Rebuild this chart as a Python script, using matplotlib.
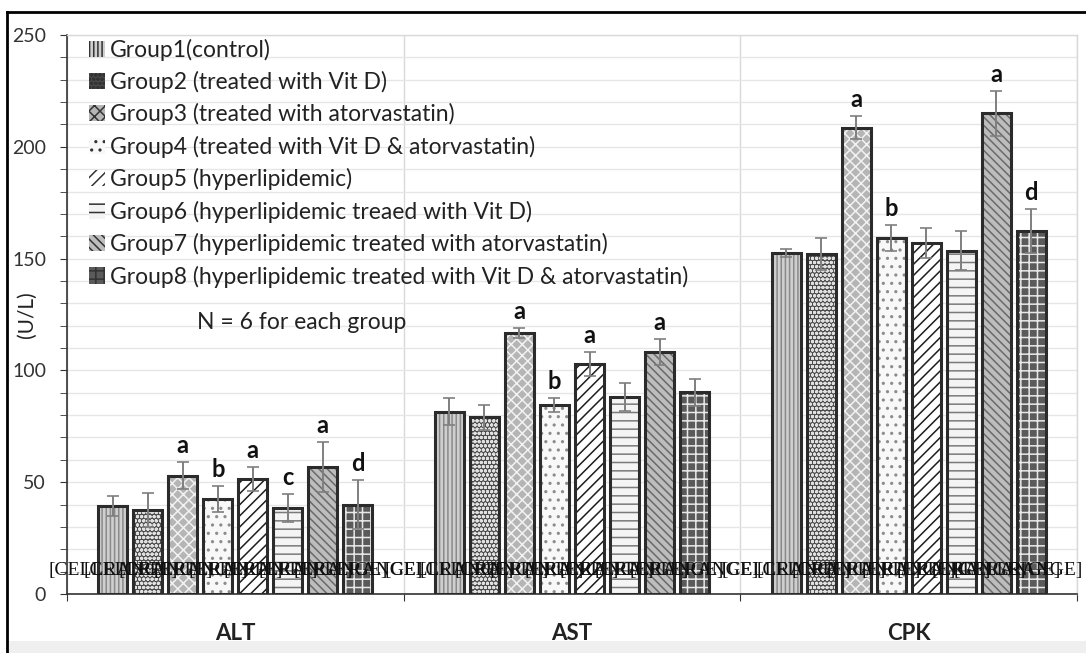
import numpy as np
import matplotlib
matplotlib.use('Agg')
import matplotlib.pyplot as plt
import matplotlib.transforms as mtransforms
from matplotlib.patches import Patch, Rectangle
from matplotlib.lines import Line2D

# ---- data ----
categories = ['ALT', 'AST', 'CPK']
groups = ['Group1(control)',
          'Group2 (treated with Vit D)',
          'Group3 (treated with atorvastatin)',
          'Group4 (treated with Vit D & atorvastatin)',
          'Group5 (hyperlipidemic)',
          'Group6 (hyperlipidemic treaed with Vit D)',
          'Group7 (hyperlipidemic treated with atorvastatin)',
          'Group8 (hyperlipidemic treated with Vit D & atorvastatin)']

means = np.array([
    [39.5, 81.5, 152.7],
    [37.6, 79.0, 152.0],
    [52.9, 116.9, 208.6],
    [42.5, 84.5, 159.2],
    [51.4, 102.9, 156.8],
    [38.6, 88.0, 153.6],
    [56.7, 108.2, 214.9],
    [39.9, 90.3, 162.3],
])
sds = np.array([
    [4.5, 6.1, 1.8],
    [7.7, 5.7, 7.2],
    [6.0, 2.2, 5.1],
    [5.8, 3.0, 6.0],
    [5.5, 5.4, 6.7],
    [6.3, 6.2, 8.6],
    [11.3, 5.7, 9.9],
    [11.0, 6.0, 10.0],
])
letters = [
    ['', '', ''],
    ['', '', ''],
    ['a', 'a', 'a'],
    ['b', 'b', 'b'],
    ['a', 'a', ''],
    ['c', '', ''],
    ['a', 'a', 'a'],
    ['d', '', 'd'],
]
cell_label = '[CELLRANGE]'
cell_label_y = 10.3

# bar look per group: face colour, hatch, hatch colour
styles = [
    ('#cfcfcf', '||||', '#8a8a8a'),
    ('#4a4a4a', 'oooo', '#e0e0e0'),
    ('#b5b5b5', 'xxx', '#f2f2f2'),
    ('#f8f8f8', '..', '#8c8c8c'),
    ('#ffffff', '///', '#1e1e1e'),
    ('#f4f4f4', '--', '#7a7a7a'),
    ('#bdbdbd', '\\\\\\\\', '#6a6a6a'),
    ('#5a5a5a', '++', '#e8e8e8'),
]

plt.rcParams['font.family'] = ['Lato', 'DejaVu Sans']
plt.rcParams['hatch.linewidth'] = 1.1

W, H = 1086, 653
fig = plt.figure(figsize=(W / 100, H / 100), dpi=100)
ax = fig.add_axes([67 / W, 59 / H, 1010 / W, 559 / H])

x = np.arange(len(categories))
pitch = 0.104
width = 0.086
# labels pushed back inside the chart area at its right edge
right_edge = mtransforms.blended_transform_factory(fig.transFigure, ax.transData)
for i, (fc, hatch, hc) in enumerate(styles):
    xs = x + (i - 3.5) * pitch
    ax.bar(xs, means[i], width, color=fc, hatch=hatch, edgecolor=hc,
           linewidth=0, zorder=2)
    ax.bar(xs, means[i], width, fill=False, edgecolor='#2b2b2b',
           linewidth=2.2, zorder=3)
    ax.errorbar(xs, means[i], yerr=sds[i], fmt='none', ecolor='#7f7f7f',
                elinewidth=1.4, capsize=4, capthick=1.2, zorder=4)
    for j in range(len(categories)):
        if i == len(styles) - 1 and j == len(categories) - 1:
            ax.text(1083 / W, cell_label_y, cell_label, ha='right', va='center',
                    transform=right_edge, fontsize=14, family='Liberation Serif',
                    color='#111111', zorder=5)
        else:
            ax.text(xs[j], cell_label_y, cell_label, ha='center', va='center',
                    fontsize=14, family='Liberation Serif', color='#111111',
                    zorder=5)
        if letters[i][j]:
            ax.text(xs[j], means[i][j] + sds[i][j] + 2.2, letters[i][j],
                    ha='center', va='bottom', fontsize=17, fontweight='bold',
                    color='#111111', zorder=5)

ax.set_xlim(-0.5, 2.5)
ax.set_ylim(0, 250)
ax.set_yticks(np.arange(0, 251, 50))
ax.set_yticks(np.arange(0, 251, 10), minor=True)
ax.set_xticks([-0.5, 0.5, 1.5, 2.5])
ax.set_xticklabels([])
ax.set_xticks(x, minor=True)
ax.set_xticklabels(categories, minor=True, fontsize=16, fontweight='bold',
                   color='#222222')
ax.tick_params(axis='x', which='minor', length=0, pad=21)
ax.tick_params(axis='x', which='major', length=5, direction='out', color='#333333')
ax.tick_params(axis='y', which='both', length=5, direction='out', color='#333333',
               labelsize=14, labelcolor='#333333', pad=10)

ax.grid(axis='y', which='both', color='#e6e6e6', linewidth=1, zorder=0)
ax.grid(axis='x', which='major', color='#d9d9d9', linewidth=1, zorder=0)
ax.set_axisbelow(True)
for side in ['left', 'bottom']:
    ax.spines[side].set_color('#333333')
    ax.spines[side].set_linewidth(1.2)
for side in ['top', 'right']:
    ax.spines[side].set_color('#d9d9d9')
    ax.spines[side].set_linewidth(1)

ax.set_ylabel('(U/L)', fontsize=15, color='#222222')
ax.yaxis.set_label_coords(-30 / 1010, 0.5)

handles = [Patch(facecolor=fc, hatch=hatch, edgecolor=hc, linewidth=0)
           for fc, hatch, hc in styles]
leg = ax.legend(handles, groups, loc='upper left', bbox_to_anchor=(0.013, 1.01),
                frameon=False, fontsize=16.5, handlelength=0.7, handleheight=0.7,
                handletextpad=0.2, labelspacing=0.45, borderaxespad=0.0)
for t in leg.get_texts():
    t.set_color('#222222')
for h in leg.legend_handles:
    h.set_edgecolor('#333333')

ax.text(0.129, 0.485, 'N = 6 for each group', transform=ax.transAxes,
        fontsize=16.5, color='#222222', ha='left', va='center')

# figure frame
fig.add_artist(Line2D([7 / W, 7 / W], [0, 1 - 12 / H],
                      transform=fig.transFigure, color='black', linewidth=2))
fig.add_artist(Line2D([7 / W, 1], [1 - 12 / H, 1 - 12 / H],
                      transform=fig.transFigure, color='black', linewidth=2))
fig.add_artist(Rectangle((8 / W, 0), 1, 12 / H, transform=fig.transFigure,
                         facecolor='#efefef', edgecolor='none'))

fig.savefig('out.png', dpi=100)
